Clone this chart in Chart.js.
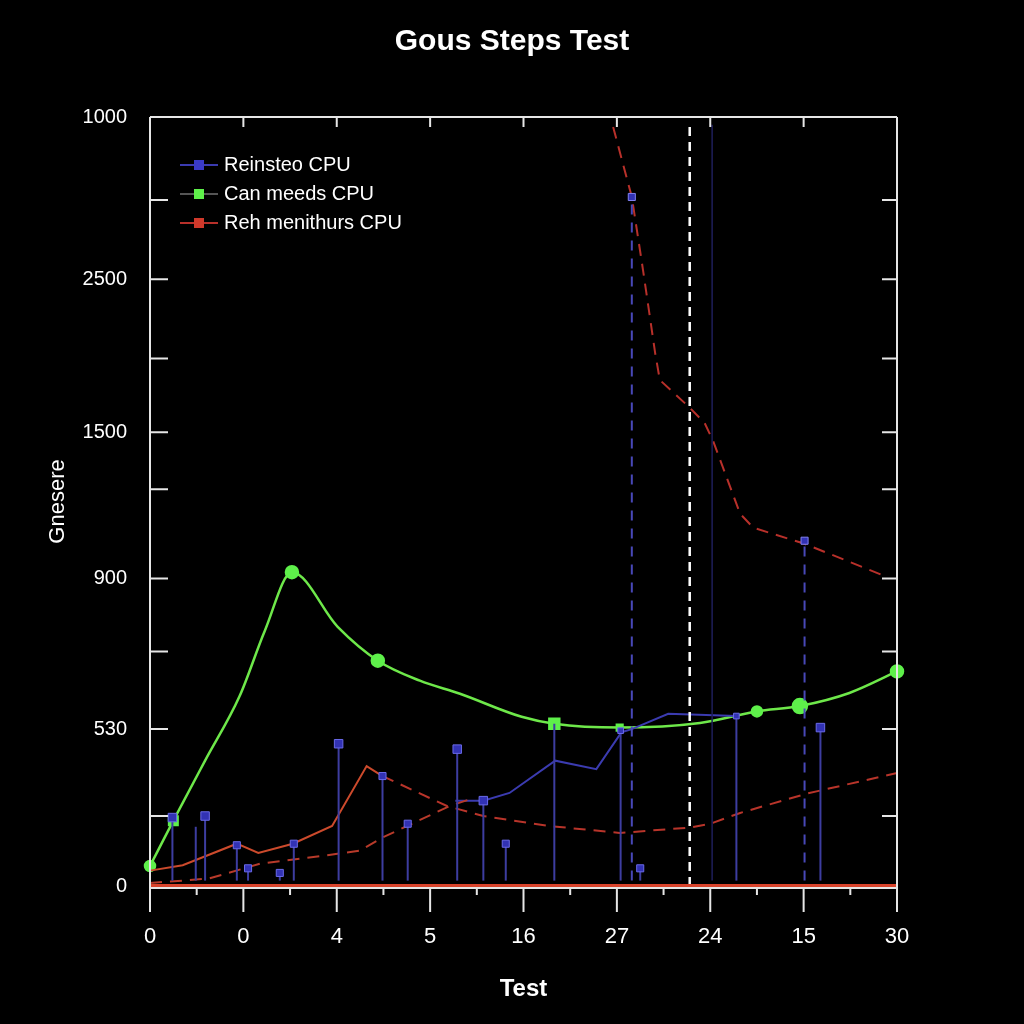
<!DOCTYPE html>
<html>
<head>
<meta charset="utf-8">
<title>Gous Steps Test</title>
<script src="https://cdn.jsdelivr.net/npm/chart.js@4.4.1/dist/chart.umd.min.js"></script>
<style>
  html, body { margin: 0; padding: 0; background: #000; }
  #wrap { width: 1024px; height: 1024px; }
</style>
</head>
<body>
<div id="wrap"><canvas id="myChart" width="1024" height="1024"></canvas></div>
<script>
// x axis: 9 labelled positions (0..8), minor ticks every half step
const xLabels = ['0', '0', '4', '5', '16', '27', '24', '15', '30'];
// y axis: odd tick labels as printed on the reference
const yTickVals   = [0, 0.91, 2.04, 3.05, 4.0, 5.16, 5.9, 6.86, 7.89, 8.92, 10];
const yTickLabels = ['0', '', '530', '', '900', '', '1500', '', '2500', '', '1000'];

// Can meeds CPU (green)
const greenX = [0, 0.25, 0.59, 0.96, 1.23, 1.52, 2.01, 2.44, 2.89, 3.32, 3.98, 4.33, 5.03, 5.89, 6.5, 6.96, 7.49, 8.0];
const greenY = [0.26, 0.85, 1.63, 2.47, 3.32, 4.08, 3.37, 2.93, 2.67, 2.5, 2.2, 2.11, 2.06, 2.12, 2.27, 2.34, 2.51, 2.79];
const greenMarkSize = [5, 6, 0, 0, 0, 6, 0, 6, 0, 0, 0, 7, 4, 0, 5, 7, 0, 6];
const greenMarkStyle = ['circle', 'rect', 'circle', 'circle', 'circle', 'circle', 'circle', 'circle', 'circle',
                        'circle', 'circle', 'rect', 'rect', 'circle', 'circle', 'circle', 'circle', 'circle'];

// Reinsteo CPU (blue line)
const blueX = [3.27, 3.57, 3.85, 4.34, 4.78, 5.05, 5.16, 5.55, 6.28];
const blueY = [1.11, 1.11, 1.21, 1.63, 1.52, 2.0, 2.04, 2.24, 2.21];

// blue stems (solid) : x, top value, marker size
const stemX    = [0.24, 0.49, 0.59, 0.93, 1.05, 1.39, 1.54, 2.02, 2.49, 2.76, 3.29, 3.57, 3.81, 4.33, 5.04, 5.25, 6.28, 7.18];
const stemY    = [0.89, 0.77, 0.91, 0.53, 0.23, 0.17, 0.55, 1.85, 1.43, 0.81, 1.78, 1.11, 0.55, 2.11, 2.02, 0.23, 2.21, 2.06];
const stemMark = [6, 0, 6, 5, 5, 5, 5, 6, 5, 5, 6, 6, 5, 0, 4, 5, 4, 6];
// blue stems (dashed)
const dashStemX = [5.16, 7.01];
const dashStemY = [8.96, 4.49];
const stemBase = 0.07;

// Reh menithurs CPU (red lines)
const redX = [0, 0.35, 0.93, 1.16, 1.53, 1.95, 2.32, 2.49, 3.18, 3.57, 4.28, 5.03, 5.78, 6.0, 6.32, 7.03, 8.0];
const redY = [0.2, 0.27, 0.55, 0.43, 0.55, 0.78, 1.56, 1.43, 1.04, 0.91, 0.78, 0.69, 0.76, 0.81, 0.95, 1.2, 1.47];
const redLowX = [0, 0.35, 0.64, 1.18, 1.9, 2.25, 2.49, 3.21, 3.43];
const redLowY = [0.04, 0.07, 0.1, 0.29, 0.4, 0.46, 0.63, 1.04, 1.13];
const redTopX = [4.96, 5.16, 5.28, 5.41, 5.46, 5.78, 5.94, 6.03, 6.32, 6.46, 7.01, 7.85];
const redTopY = [9.87, 8.96, 8.01, 6.93, 6.58, 6.22, 6.02, 5.79, 4.84, 4.66, 4.45, 4.04];
const redBaseX = [0, 8];
const redBaseY = [0, 0];

// vertical reference lines
const whiteVLineX = 5.78;
const darkVLineX = 6.02;
const vLineTop = 9.9;

const legendItems = [
    { text: 'Reinsteo CPU', line: '#3b3bb0', box: '#3a3ac8' },
    { text: 'Can meeds CPU', line: '#555555', box: '#5ef04a' },
    { text: 'Reh menithurs CPU', line: '#b8302a', box: '#d0392b' }
];

const pts = (xs, ys) => xs.map((x, i) => ({ x: x, y: ys[i] }));

const datasets = [];

datasets.push({
    label: 'Reh menithurs CPU base',
    data: pts(redBaseX, redBaseY),
    borderColor: '#d9432b', borderWidth: 4, pointRadius: 0
});
datasets.push({
    label: 'white vline',
    data: [{ x: whiteVLineX, y: 0 }, { x: whiteVLineX, y: vLineTop }],
    borderColor: '#ffffff', borderWidth: 2.5, borderDash: [9, 6], pointRadius: 0
});
datasets.push({
    label: 'dark vline',
    data: [{ x: darkVLineX, y: 0.07 }, { x: darkVLineX, y: vLineTop }],
    borderColor: '#1e1e5a', borderWidth: 1.5, pointRadius: 0
});

// stems
stemX.forEach((x, i) => {
    datasets.push({
        label: 'stem',
        data: [{ x: x, y: stemBase }, { x: x, y: stemY[i] }],
        borderColor: '#3d3da0', borderWidth: 2,
        pointRadius: [0, stemMark[i]], pointStyle: 'rect',
        pointBackgroundColor: '#3232b4', pointBorderColor: '#6a6ae8', pointBorderWidth: 1
    });
});
dashStemX.forEach((x, i) => {
    datasets.push({
        label: 'dash stem',
        data: [{ x: x, y: stemBase }, { x: x, y: dashStemY[i] }],
        borderColor: '#4848b8', borderWidth: 2, borderDash: [10, 8],
        pointRadius: [0, 5], pointStyle: 'rect',
        pointBackgroundColor: '#3232b4', pointBorderColor: '#8080f0', pointBorderWidth: 1
    });
});

datasets.push({
    label: 'Reh menithurs CPU low',
    data: pts(redLowX, redLowY),
    borderColor: '#b83a2a', borderWidth: 2, borderDash: [12, 8], pointRadius: 0
});
datasets.push({
    label: 'Reh menithurs CPU',
    data: pts(redX, redY),
    borderColor: '#cc4a2c', borderWidth: 2, pointRadius: 0,
    segment: {
        borderDash: ctx => ctx.p0DataIndex >= 7 ? [12, 8] : undefined,
        borderColor: ctx => ctx.p0DataIndex >= 7 ? '#b8342a' : undefined
    }
});
datasets.push({
    label: 'Reh menithurs CPU top',
    data: pts(redTopX, redTopY),
    borderColor: '#b8302a', borderWidth: 2, borderDash: [12, 8], pointRadius: 0
});
datasets.push({
    label: 'Reinsteo CPU',
    data: pts(blueX, blueY),
    borderColor: '#3b3bb0', borderWidth: 2, pointRadius: 0
});
datasets.push({
    label: 'Can meeds CPU',
    data: pts(greenX, greenY),
    borderColor: '#6ee84a', borderWidth: 2.5, cubicInterpolationMode: 'monotone',
    pointRadius: greenMarkSize, pointStyle: greenMarkStyle,
    pointBackgroundColor: '#5ef04a', pointBorderColor: '#5ef04a'
});

datasets.forEach(d => { d.showLine = true; d.clip = false; d.fill = false; });

// frame, inward tick marks and the legend drawn on top
const framePlugin = {
    id: 'frame',
    afterDraw(chart) {
        const c = chart.ctx;
        const a = chart.chartArea;
        const xs = chart.scales.x, ys = chart.scales.y;
        c.save();
        c.strokeStyle = '#e6e6e6';
        c.lineWidth = 2;
        c.beginPath();
        c.moveTo(a.left, a.top); c.lineTo(a.left, a.bottom + 26);
        c.moveTo(a.left, a.top); c.lineTo(a.right, a.top);
        c.moveTo(a.right, a.top); c.lineTo(a.right, a.bottom + 2);
        c.moveTo(a.left, a.bottom + 2); c.lineTo(a.right, a.bottom + 2);
        ys.ticks.forEach(t => {
            const y = ys.getPixelForValue(t.value);
            if (t.value > 0 && t.value < 10) {
                c.moveTo(a.left, y); c.lineTo(a.left + 18, y);
                c.moveTo(a.right - 15, y); c.lineTo(a.right, y);
            }
        });
        xs.ticks.forEach(t => {
            const x = xs.getPixelForValue(t.value);
            const major = Number.isInteger(t.value);
            c.moveTo(x, a.bottom + 2); c.lineTo(x, a.bottom + (major ? 26 : 9));
            if (major && t.value > 0 && t.value < 8) {
                c.moveTo(x, a.top); c.lineTo(x, a.top + 10);
            }
        });
        c.stroke();

        // legend
        c.font = '20px "Liberation Sans", Arial, sans-serif';
        c.textBaseline = 'middle';
        legendItems.forEach((item, i) => {
            const y = 165 + i * 29;
            c.strokeStyle = item.line;
            c.lineWidth = 2;
            c.beginPath(); c.moveTo(180, y); c.lineTo(218, y); c.stroke();
            c.fillStyle = item.box;
            c.fillRect(194, y - 5, 10, 10);
            c.fillStyle = '#ffffff';
            c.fillText(item.text, 224, y);
        });
        c.restore();
    }
};

const config = {
    type: 'scatter',
    data: { datasets: datasets },
    options: {
        responsive: false,
        animation: false,
        layout: { padding: 0 },
        plugins: {
            legend: { display: false },
            tooltip: { enabled: false },
            title: {
                display: true,
                text: 'Gous Steps Test',
                color: '#ffffff',
                font: { family: '"Liberation Sans", Arial, sans-serif', size: 30, weight: 'bold' },
                padding: { top: 24, bottom: 57 }
            }
        },
        scales: {
            x: {
                type: 'linear',
                min: 0, max: 8,
                grid: { display: false },
                border: { display: false },
                afterFit: s => { s.height = 138; },
                ticks: {
                    stepSize: 0.5,
                    autoSkip: false,
                    maxRotation: 0,
                    padding: 30,
                    color: '#ffffff',
                    font: { family: '"Liberation Sans Narrow", "Liberation Sans", sans-serif', size: 22 },
                    callback: v => Number.isInteger(v) ? xLabels[v] : ''
                },
                title: {
                    display: true,
                    text: 'Test',
                    color: '#ffffff',
                    font: { family: '"Liberation Sans Narrow", "Liberation Sans", sans-serif', size: 24, weight: 'bold' },
                    padding: { top: 0, bottom: 20 }
                }
            },
            y: {
                type: 'linear',
                min: 0, max: 10,
                grid: { display: false },
                border: { display: false },
                afterFit: s => { s.width = 150; },
                afterBuildTicks: s => { s.ticks = yTickVals.map(v => ({ value: v })); },
                ticks: {
                    padding: 15,
                    color: '#ffffff',
                    font: { family: '"Liberation Sans", Arial, sans-serif', size: 20 },
                    callback: (v, i) => yTickLabels[i]
                },
                title: {
                    display: true,
                    text: 'Gnesere',
                    color: '#ffffff',
                    font: { family: '"Liberation Sans Narrow", "Liberation Sans", sans-serif', size: 22 },
                    padding: { top: 45, bottom: 0 }
                }
            },
            // empty right-hand axis that only reserves the margin right of the plot
            yRight: {
                type: 'linear',
                position: 'right',
                min: 0, max: 10,
                grid: { display: false },
                border: { display: false },
                ticks: { display: false },
                afterFit: s => { s.width = 127; }
            }
        }
    },
    plugins: [framePlugin]
};

new Chart(document.querySelector('#myChart').getContext('2d'), config);
</script>
</body>
</html>
